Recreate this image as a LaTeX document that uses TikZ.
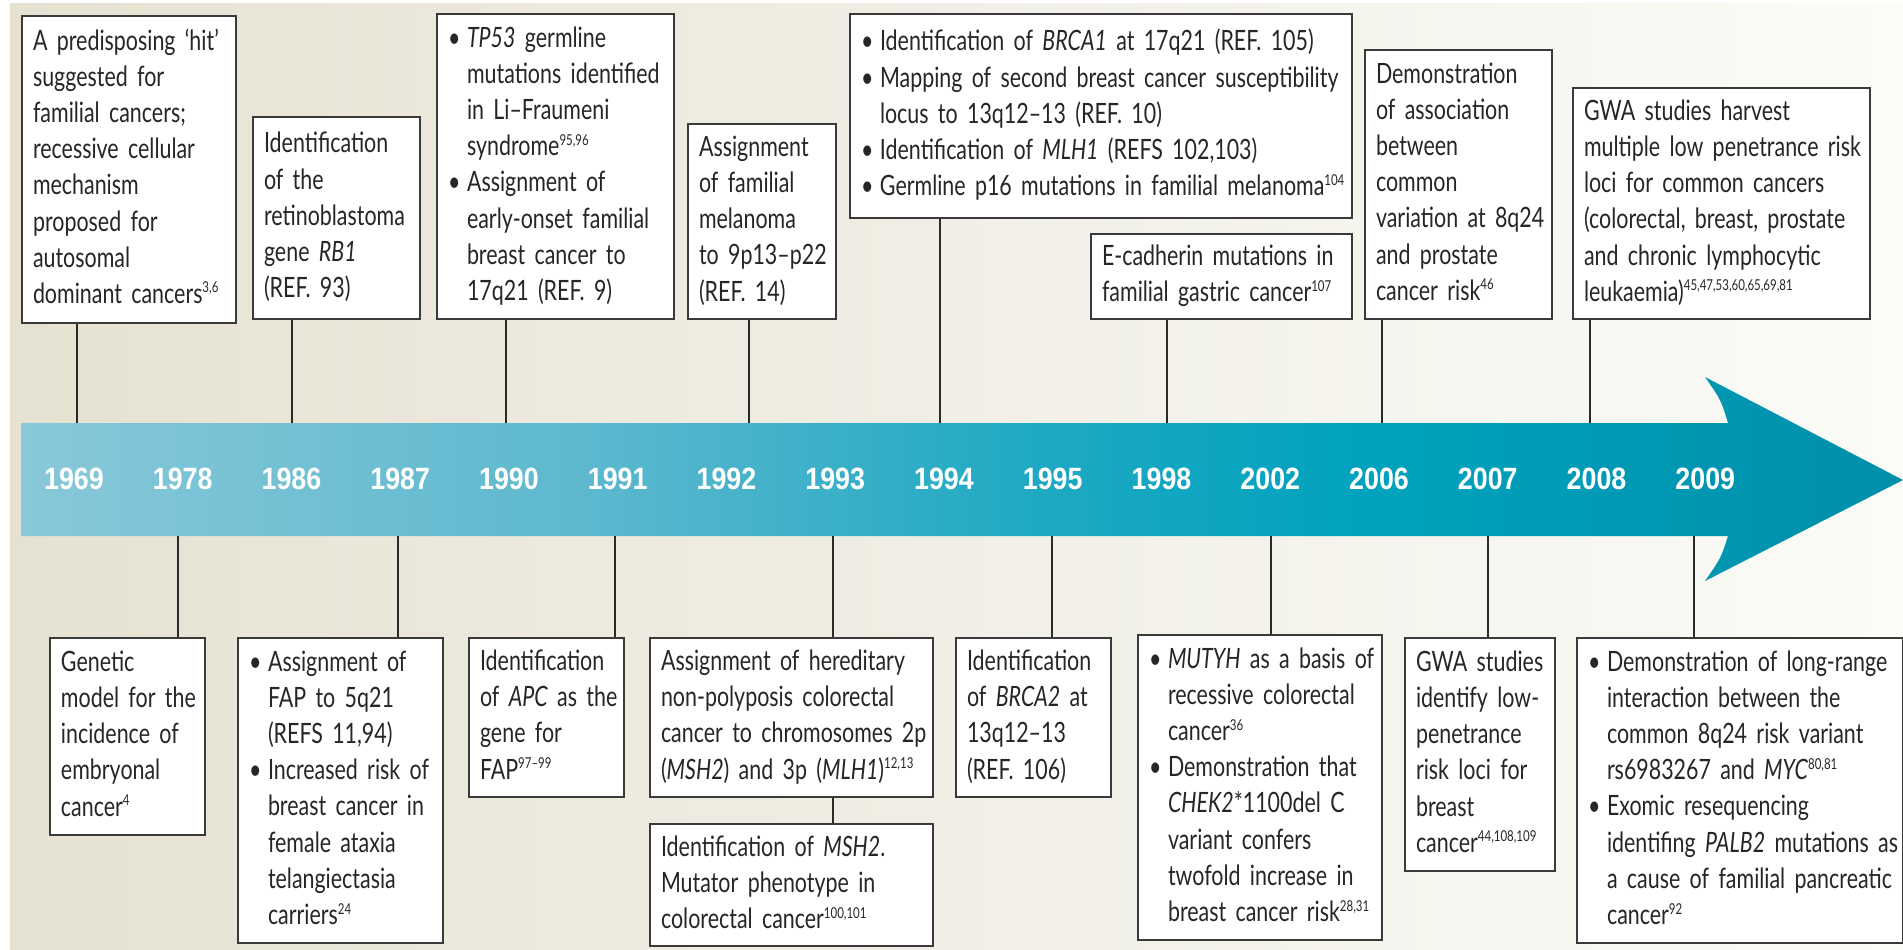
\documentclass[tikz,border=0pt]{standalone}
\usepackage{fontspec}
\newfontfamily\boxfont[FakeStretch=0.765]{Lato}
\newfontfamily\yearfont[FakeStretch=0.87]{Liberation Sans}

\definecolor{bgL}{HTML}{E6E2D2}
\definecolor{bgR}{HTML}{FBFBF8}
\definecolor{bandA}{HTML}{88C8D9}
\definecolor{bandB}{HTML}{5DB8CE}
\definecolor{bandC}{HTML}{1EA9C3}
\definecolor{bandD}{HTML}{00A2BE}
\definecolor{bandE}{HTML}{008FAA}
\definecolor{boxline}{HTML}{3A3A3A}
\definecolor{linkc}{HTML}{2A2A2A}

\pgfdeclarehorizontalshading{bandshade}{100bp}{color(0bp)=(bandA); color(25bp)=(bandA); color(40bp)=(bandB); color(52bp)=(bandC); color(61bp)=(bandD); color(75bp)=(bandE); color(100bp)=(bandE)}

\newcommand{\lines}[1]{\begin{tabular}{@{}l@{}}#1\end{tabular}}
\newcommand{\blines}[1]{\begin{tabular}{@{}p{9.5pt}@{}l@{}}#1\end{tabular}}
\newcommand{\sups}[1]{\textsuperscript{\fontsize{7.5}{8}\selectfont #1}}

\begin{document}
\begin{tikzpicture}[x=0.5pt, y=-0.5pt,
    evbox/.style={draw=boxline, line width=1pt, fill=white, anchor=north west,
        inner xsep=5.5pt, inner ysep=2pt, align=left, text=black!85,
        font=\boxfont\fontsize{14}{18.1}\selectfont},
    link/.style={draw=linkc, line width=0.75pt},
    yearlbl/.style={text=white, font=\yearfont\bfseries\fontsize{15.4}{16}\selectfont}]

    \useasboundingbox (0,0) rectangle (1903,949);

    % background
    \fill[white] (0,0) rectangle (1903,949);
    \shade[left color=bgL, right color=bgR] (10,3) rectangle (1903,949);

    % time band with arrow head
    \shade[shading=bandshade] (21,423) -- (1728,423) .. controls (1721,400) .. (1705,377)
        -- (1903,480) -- (1705,581) .. controls (1721,558) .. (1728,536) -- (21,536) -- cycle;

    % years
    \foreach \yr [count=\i from 0] in {1969,1978,1986,1987,1990,1991,1992,1993,1994,1995,1998,2002,2006,2007,2008,2009}
        \node[yearlbl] (y\yr) at ({74+108.75*\i},479) {\yr};

    % events above the band
    \node[evbox, text width=96pt, minimum height=153.5pt] (e1969) at (21,15)
        {\lines{A predisposing ‘hit’\\ suggested for\\ familial cancers;\\ recessive cellular\\ mechanism\\ proposed for\\ autosomal\\ dominant cancers\sups{3,6}}};

    \node[evbox, text width=72.5pt, minimum height=101pt] (e1986) at (252,116)
        {\lines{Identification\\ of the\\ retinoblastoma\\ gene \textit{RB1}\\ (REF. 93)}};

    \node[evbox, text width=107.5pt, minimum height=152.5pt] (e1990) at (436,13)
        {\blines{• & \textit{TP53} germline\\ & mutations identified\\ & in Li–Fraumeni\\ & syndrome\sups{95,96}\\ • & Assignment of\\ & early-onset familial\\ & breast cancer to\\ & 17q21 (REF. 9)}};

    \node[evbox, text width=63pt, minimum height=97.5pt] (e1992) at (687,123)
        {\lines{Assignment\\ of familial\\ melanoma\\ to 9p13–p22\\ (REF. 14)}};

    \node[evbox, text width=240pt, minimum height=102pt] (e1994) at (849,13)
        {\blines{• & Identification of \textit{BRCA1} at 17q21 (REF. 105)\\ • & Mapping of second breast cancer susceptibility\\ & locus to 13q12–13 (REF. 10)\\ • & Identification of \textit{MLH1} (REFS 102,103)\\ • & Germline p16 mutations in familial melanoma\sups{104}}};

    \node[evbox, text width=119.5pt, minimum height=42.5pt] (e1998) at (1090,233)
        {\lines{E-cadherin mutations in\\ familial gastric cancer\sups{107}}};

    \node[evbox, text width=82.5pt, minimum height=134.5pt] (e2006) at (1364,49)
        {\lines{Demonstration\\ of association\\ between\\ common\\ variation at 8q24\\ and prostate\\ cancer risk\sups{46}}};

    \node[evbox, text width=137.5pt, minimum height=115.5pt] (e2008) at (1572,87)
        {\lines{GWA studies harvest\\ multiple low penetrance risk\\ loci for common cancers\\ (colorectal, breast, prostate\\ and chronic lymphocytic\\ leukaemia)\sups{45,47,53,60,65,69,81}}};

    % events below the band
    \node[evbox, text width=66.5pt, minimum height=98.5pt] (e1978) at (49,637)
        {\lines{Genetic\\ model for the\\ incidence of\\ embryonal\\ cancer\sups{4}}};

    \node[evbox, text width=91.5pt, minimum height=152.5pt] (e1987) at (237,637)
        {\blines{• & Assignment of\\ & FAP to 5q21\\ & (REFS 11,94)\\ • & Increased risk of\\ & breast cancer in\\ & female ataxia\\ & telangiectasia\\ & carriers\sups{24}}};

    \node[evbox, text width=66.5pt, minimum height=79.5pt] (e1991) at (468,637)
        {\lines{Identification\\ of \textit{APC} as the\\ gene for\\ FAP\sups{97–99}}};

    \node[evbox, text width=130.5pt, minimum height=79.5pt] (e1993) at (649,637)
        {\lines{Assignment of hereditary\\ non-polyposis colorectal\\ cancer to chromosomes 2p\\ (\textit{MSH2}) and 3p (\textit{MLH1})\sups{12,13}}};

    \node[evbox, text width=130.5pt, minimum height=61pt] (e1993b) at (649,823)
        {\lines{Identification of \textit{MSH2}.\\ Mutator phenotype in\\ colorectal cancer\sups{100,101}}};

    \node[evbox, text width=66.5pt, minimum height=79.5pt] (e1995) at (955,637)
        {\lines{Identification\\ of \textit{BRCA2} at\\ 13q12–13\\ (REF. 106)}};

    \node[evbox, text width=111pt, minimum height=152.5pt] (e2002) at (1137,634)
        {\blines{• & \textit{MUTYH} as a basis of\\ & recessive colorectal\\ & cancer\sups{36}\\ • & Demonstration that\\ & \textit{CHEK2}*1100del C\\ & variant confers\\ & twofold increase in\\ & breast cancer risk\sups{28,31}}};

    \node[evbox, text width=64pt, minimum height=116.5pt] (e2007) at (1404,637)
        {\lines{GWA studies\\ identify low-\\ penetrance\\ risk loci for\\ breast\\ cancer\sups{44,108,109}}};

    \node[evbox, text width=152pt, minimum height=152.5pt] (e2009) at (1576,637)
        {\blines{• & Demonstration of long-range\\ & interaction between the\\ & common 8q24 risk variant\\ & rs6983267 and \textit{MYC}\sups{80,81}\\ • & Exomic resequencing\\ & identifing \textit{PALB2} mutations as\\ & a cause of familial pancreatic\\ & cancer\sups{92}}};

    % links to the band
    \foreach \yr/\xx in {1969/77,1986/292,1990/506,1992/749,1994/940,1998/1167,2006/1382,2008/1590}{
        \coordinate (t\yr) at (\xx,423);
        \draw[link] (e\yr.south -| t\yr) -- (t\yr);
    }
    \foreach \yr/\xx in {1978/178,1987/398,1991/615,1993/833,1995/1052,2002/1271,2007/1488,2009/1694}{
        \coordinate (b\yr) at (\xx,536);
        \draw[link] (b\yr) -- (e\yr.north -| b\yr);
    }
    \draw[link] (e1993.south -| b1993) -- (e1993b.north -| b1993);

\end{tikzpicture}
\end{document}
